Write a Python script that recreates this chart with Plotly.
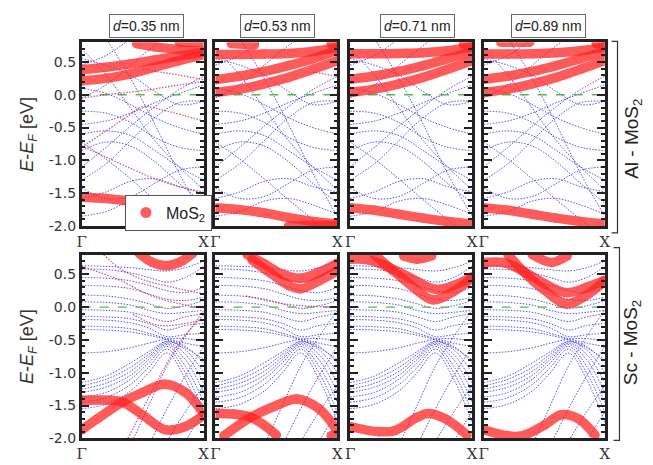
import plotly.graph_objects as go

W, H = 653, 465

# ---------------- data ----------------
D_LABELS = ["0.35", "0.53", "0.71", "0.89"]
ROW_LABELS = ["Al - MoS<sub>2</sub>", "Sc - MoS<sub>2</sub>"]
Y_TICKVALS = [0.5, 0.0, -0.5, -1.0, -1.5, -2.0]
Y_TICKTEXT = ["0.5", "0.0", "-0.5", "-1.0", "-1.5", "-2.0"]
X_TICKTEXT = ["Γ", "X"]

# Al - MoS2 metal bands (k grid along Γ-X)
AL_K = [0, 0.2, 0.4, 0.6, 0.8, 1.0]
AL_BANDS = [
    [-1.10, -0.80, -0.48, -0.18, 0.08, 0.28],
    [0.10, 0.02, -0.15, -0.35, -0.50, -0.60],
    [-0.25, -0.28, -0.42, -0.65, -0.80, -0.85],
    [1.30, 0.85, 0.25, -0.45, -1.20, -1.85],
    [0.70, 0.30, -0.20, -0.70, -1.10, -1.45],
    [-0.72, -0.98, -1.28, -1.60, -1.90, -2.20],
    [-1.42, -1.58, -1.55, -1.35, -1.15, -1.10],
    [-1.58, -1.48, -1.32, -1.28, -1.40, -1.48],
    [-0.85, -0.72, -0.78, -1.02, -1.35, -1.65],
    [-0.45, -0.40, -0.28, -0.12, 0.02, 0.15],
    [0.45, 0.60, 0.85, 1.10, 1.30, 1.40],
    [-0.05, 0.15, 0.45, 0.75, 1.00, 1.20],
    [-1.85, -1.78, -1.62, -1.58, -1.68, -1.82],
    [0.55, 0.45, 0.30, 0.05, -0.15, -0.10],
    [-1.30, -1.05, -0.70, -0.35, -0.12, -0.10],
    [-0.60, -0.55, -0.62, -0.85, -1.10, -1.30],
]

# Sc - MoS2 metal bands
SC_K = [0, 0.2, 0.4, 0.55, 0.7, 0.85, 1.0]
SC_BANDS = [
    [0.63, 0.62, 0.60, 0.57, 0.55, 0.60, 0.70],
    [0.58, 0.57, 0.52, 0.45, 0.38, 0.45, 0.62],
    [0.45, 0.44, 0.40, 0.33, 0.25, 0.22, 0.30],
    [0.33, 0.32, 0.28, 0.20, 0.12, 0.10, 0.15],
    [0.18, 0.17, 0.12, 0.05, -0.02, 0.02, 0.10],
    [0.08, 0.07, 0.03, -0.05, -0.10, -0.08, -0.05],
    [-0.04, -0.05, -0.08, -0.15, -0.22, -0.15, -0.10],
    [-0.14, -0.15, -0.18, -0.25, -0.35, -0.28, -0.25],
    [-0.19, -0.20, -0.24, -0.32, -0.45, -0.42, -0.40],
    [-0.29, -0.30, -0.33, -0.40, -0.48, -0.55, -0.60],
    [-0.34, -0.35, -0.38, -0.43, -0.50, -0.62, -0.80],
    [-0.70, -0.68, -0.62, -0.55, -0.49, -0.48, -0.52],
    [-1.15, -1.05, -0.85, -0.68, -0.52, -0.60, -0.85],
    [-1.20, -1.10, -0.92, -0.72, -0.53, -0.65, -1.00],
    [-1.25, -1.16, -0.98, -0.76, -0.55, -0.72, -1.15],
    [-1.30, -1.22, -1.04, -0.80, -0.57, -0.80, -1.30],
    [-1.37, -1.30, -1.10, -0.85, -0.60, -0.90, -1.45],
    [-1.45, -1.38, -1.18, -0.92, -0.64, -1.00, -1.60],
    [-1.55, -1.48, -1.28, -1.00, -0.70, -1.10, -1.75],
    [-3.50, -2.80, -2.10, -1.50, -0.90, -0.45, -0.05],
    [-4.00, -3.40, -2.60, -2.10, -1.55, -1.05, -0.60],
    [-4.50, -3.90, -3.20, -2.60, -2.05, -1.60, -1.20],
    [-5.00, -4.40, -3.80, -3.20, -2.60, -2.05, -1.60],
]

# MoS2-projected bands (thick red), per panel: (k list, E list)
MOS2_AL = [
    [([0, 0.2, 0.4, 0.6, 0.8, 1.0], [0.385, 0.42, 0.47, 0.53, 0.59, 0.65]),
     ([0, 0.2, 0.4, 0.6, 0.8, 1.0], [0.215, 0.25, 0.32, 0.42, 0.52, 0.61]),
     ([0.45, 0.6, 0.8, 1.0], [0.78, 0.73, 0.69, 0.66]),
     ([0.8, 1.0], [0.80, 0.80]),
     ([0, 0.2, 0.4, 0.6, 0.8, 1.0], [-1.56, -1.58, -1.62, -1.66, -1.65, -1.62]),
     ([0.5, 0.75, 1.0], [-1.98, -1.97, -1.95]),
     ([0.85, 1.0], [-1.86, -1.87])],
    [([0, 0.2, 0.4, 0.6, 0.8, 1.0], [0.615, 0.615, 0.62, 0.63, 0.66, 0.72]),
     ([0, 0.2, 0.4, 0.6, 0.8, 1.0], [0.23, 0.285, 0.355, 0.445, 0.55, 0.68]),
     ([0, 0.2, 0.4, 0.6, 0.8, 1.0], [0.035, 0.085, 0.165, 0.265, 0.39, 0.52]),
     ([0.13, 0.32], [0.78, 0.76]),
     ([0.95, 1.0], [0.78, 0.79]),
     ([0, 0.2, 0.4, 0.6, 0.8, 1.0], [-1.72, -1.75, -1.80, -1.87, -1.93, -1.97]),
     ([0.6, 0.8, 1.0], [-2.0, -1.99, -1.99])],
    [([0, 0.2, 0.4, 0.6, 0.8, 1.0], [0.625, 0.625, 0.63, 0.64, 0.67, 0.73]),
     ([0, 0.2, 0.4, 0.6, 0.8, 1.0], [0.235, 0.285, 0.355, 0.445, 0.55, 0.66]),
     ([0, 0.2, 0.4, 0.6, 0.8, 1.0], [0.035, 0.085, 0.165, 0.265, 0.39, 0.52]),
     ([0.93, 1.0], [0.77, 0.78]),
     ([0, 0.2, 0.4, 0.6, 0.8, 1.0], [-1.72, -1.76, -1.82, -1.88, -1.93, -1.97])],
    [([0, 0.2, 0.4, 0.6, 0.8, 1.0], [0.62, 0.62, 0.625, 0.64, 0.67, 0.73]),
     ([0, 0.2, 0.4, 0.6, 0.8, 1.0], [0.235, 0.285, 0.355, 0.445, 0.55, 0.66]),
     ([0, 0.2, 0.4, 0.6, 0.8, 1.0], [0.035, 0.085, 0.165, 0.265, 0.39, 0.52]),
     ([0.14, 0.38], [0.80, 0.80]),
     ([0.93, 1.0], [0.78, 0.79]),
     ([0, 0.2, 0.4, 0.6, 0.8, 1.0], [-1.72, -1.76, -1.82, -1.88, -1.93, -1.97])],
]
MOS2_SC = [
    [([0.47, 0.58, 0.69, 0.80, 0.91], [0.82, 0.68, 0.63, 0.68, 0.82]),
     ([0, 0.24, 0.34, 0.5, 0.69, 0.85, 1.0], [-1.42, -1.42, -1.45, -1.645, -1.87, -1.82, -1.645]),
     ([0, 0.13, 0.34, 0.5, 0.68, 0.85, 1.0], [-1.87, -1.70, -1.44, -1.30, -1.175, -1.30, -1.62])],
    [([0.26, 0.4, 0.55, 0.7, 0.85, 1.0], [0.80, 0.66, 0.50, 0.44, 0.53, 0.67]),
     ([0.30, 0.45, 0.6, 0.7, 0.85, 1.0], [0.72, 0.52, 0.33, 0.28, 0.40, 0.55]),
     ([0, 0.15, 0.29, 0.4, 0.5], [-1.62, -1.63, -1.68, -1.80, -1.95]),
     ([0.07, 0.29, 0.5, 0.67, 0.85, 0.99], [-1.96, -1.68, -1.50, -1.40, -1.55, -1.86]),
     ([0.95, 1.0], [-1.96, -1.95])],
    [([0, 0.15, 0.3, 0.5, 0.7, 0.85, 1.0], [0.73, 0.72, 0.62, 0.44, 0.27, 0.33, 0.46]),
     ([0.2, 0.35, 0.5, 0.68, 0.85, 1.0], [0.80, 0.56, 0.33, 0.11, 0.24, 0.44]),
     ([0.44, 0.55, 0.67], [0.78, 0.73, 0.78]),
     ([0, 0.24, 0.37, 0.55, 0.64, 0.78, 0.96], [-1.82, -1.90, -1.88, -1.68, -1.62, -1.70, -1.95])],
    [([0, 0.18, 0.35, 0.5, 0.68, 0.85, 1.0], [0.68, 0.67, 0.52, 0.36, 0.22, 0.30, 0.41]),
     ([0.2, 0.35, 0.5, 0.68, 0.85, 1.0], [0.80, 0.50, 0.26, 0.05, 0.18, 0.40]),
     ([0.40, 0.56, 0.69], [0.80, 0.68, 0.78]),
     ([0, 0.29, 0.5, 0.64, 0.78, 0.92], [-1.87, -1.97, -1.80, -1.64, -1.70, -1.95])],
]

# weakly MoS2-hybridised bands (thin red)
HYB_AL = [
    [([0, 0.2, 0.4, 0.5, 0.7, 1.0], [-0.80, -0.55, -0.30, -0.18, -0.25, -0.40]),
     ([0, 0.2, 0.4, 0.6, 0.8, 1.0], [-0.78, -0.95, -1.12, -1.28, -1.40, -1.50]),
     ([0, 0.2, 0.4, 0.6, 0.8, 1.0], [-0.05, 0.0, 0.04, 0.09, 0.15, 0.20]),
     ([0.5, 0.6, 0.8, 1.0], [0.40, 0.36, 0.30, 0.23])],
    [([0.8, 1.0], [0.35, 0.28])],
    [],
    [],
]
HYB_SC = [
    [([0.18, 0.32, 0.5, 0.75, 1.0], [0.80, 0.58, 0.42, 0.30, 0.20]),
     ([0, 0.3, 0.6, 1.0], [0.62, 0.42, 0.15, -0.02]),
     ([0.42, 0.64, 1.0], [-0.11, -0.28, -0.19]),
     ([0.38, 0.6, 0.8, 1.0], [-2.0, -1.2, -0.55, -0.12])],
    [([0.25, 0.6, 1.0], [0.17, 0.04, 0.0])],
    [],
    [],
]

# ---------------- layout geometry (pixels) ----------------
COL_X = [(78, 202), (214, 338), (351, 475), (487, 610)]
ROW_Y = [(43, 230), (259, 446)]
TITLE_XC = [143.5, 277.5, 420, 553]

BLUE = "rgba(35,35,250,0.8)"
RED = "rgb(255,35,35)"
THIN = "rgba(215,30,90,0.75)"
GREEN = "rgb(90,185,70)"
AX = "#222222"
DOT = "1.5px,1.5px"

fig = go.Figure()
layout = {}

def px_x(x):
    return x / W

def px_y(y):
    return 1 - y / H

for r in range(2):
    for c in range(4):
        n = r * 4 + c + 1
        xa = "x" if n == 1 else f"x{n}"
        ya = "y" if n == 1 else f"y{n}"
        kgrid, bands = (AL_K, AL_BANDS) if r == 0 else (SC_K, SC_BANDS)
        for b in bands:
            fig.add_trace(go.Scatter(x=kgrid, y=b, mode="lines", xaxis=xa, yaxis=ya,
                                     line=dict(color=BLUE, width=1, dash=DOT, shape="spline"),
                                     showlegend=False, hoverinfo="skip"))
        fig.add_trace(go.Scatter(x=[0, 1], y=[0, 0], mode="lines", xaxis=xa, yaxis=ya,
                                 line=dict(color=GREEN, width=1.3, dash="dash"),
                                 showlegend=False, hoverinfo="skip"))
        hyb = HYB_AL[c] if r == 0 else HYB_SC[c]
        for k, e in hyb:
            fig.add_trace(go.Scatter(x=k, y=e, mode="lines", xaxis=xa, yaxis=ya,
                                     line=dict(color=THIN, width=1.3, dash=DOT, shape="spline"),
                                     showlegend=False, hoverinfo="skip"))
        red = MOS2_AL[c] if r == 0 else MOS2_SC[c]
        for k, e in red:
            fig.add_trace(go.Scatter(x=k, y=e, mode="lines+markers", xaxis=xa, yaxis=ya,
                                     line=dict(color=RED, width=9.5, shape="spline"),
                                     marker=dict(color=RED, size=9.5, line=dict(width=0)),
                                     opacity=0.74, cliponaxis=True,
                                     showlegend=False, hoverinfo="skip"))

        x0, x1 = COL_X[c]
        y0, y1 = ROW_Y[r]
        layout["xaxis" if n == 1 else f"xaxis{n}"] = dict(
            domain=[px_x(x0), px_x(x1)], anchor=ya, range=[0, 1],
            showline=True, linecolor=AX, linewidth=2.5, mirror=True,
            showgrid=False, zeroline=False, ticks="",
            tickmode="array", tickvals=[0, 1], ticktext=X_TICKTEXT,
            tickfont=dict(family="DejaVu Serif", size=15, color="#333"),
        )
        layout["yaxis" if n == 1 else f"yaxis{n}"] = dict(
            domain=[px_y(y1), px_y(y0)], anchor=xa, range=[-2.0, 0.8],
            showline=True, linecolor=AX, linewidth=2.5, mirror="allticks",
            showgrid=False, zeroline=False,
            ticks="inside", ticklen=8, tickwidth=2, tickcolor=AX,
            tickmode="array", tickvals=Y_TICKVALS, ticktext=Y_TICKTEXT,
            showticklabels=(c == 0),
            tickfont=dict(family="DejaVu Sans", size=14, color="#333"),
            minor=dict(tickmode="linear", tick0=0, dtick=0.1, ticks="inside",
                       ticklen=4, tickwidth=1.5, tickcolor=AX),
        )

# legend entry
fig.add_trace(go.Scatter(x=[None], y=[None], mode="markers", name="MoS<sub>2</sub>",
                         marker=dict(color="rgba(255,50,50,0.8)", size=11),
                         showlegend=True))

annotations = []
for c, d in enumerate(D_LABELS):
    annotations.append(dict(
        x=px_x(TITLE_XC[c]), y=px_y(26), xref="paper", yref="paper",
        text=f"<i>d</i>={d} nm", showarrow=False,
        font=dict(family="Liberation Sans", size=14, color="#222"),
        bordercolor="#666", borderwidth=1, borderpad=3, bgcolor="white",
        xanchor="center", yanchor="middle"))
for r in range(2):
    yc = (ROW_Y[r][0] + ROW_Y[r][1]) / 2
    annotations.append(dict(
        x=px_x(24), y=px_y(yc), xref="paper", yref="paper",
        text="<i>E</i>-<i>E</i><sub><i>F</i></sub> [eV]", showarrow=False, textangle=-90,
        font=dict(family="Liberation Sans", size=18, color="#333"),
        xanchor="center", yanchor="middle"))
ROW_LABEL_YC = [141, 348]
for r in range(2):
    annotations.append(dict(
        x=px_x(638), y=px_y(ROW_LABEL_YC[r]), xref="paper", yref="paper",
        text=ROW_LABELS[r], showarrow=False, textangle=-90,
        font=dict(family="Liberation Sans", size=19, color="#222"),
        xanchor="center", yanchor="middle"))

BRACKETS = [(617, 623, 42, 237), (619, 625, 252, 448)]
shapes = []
for xa_, xb_, ya_, yb_ in BRACKETS:
    shapes.append(dict(
        type="path", xref="paper", yref="paper",
        path=f"M {px_x(xa_)},{px_y(ya_)} L {px_x(xb_)},{px_y(ya_)} L {px_x(xb_)},{px_y(yb_)} L {px_x(xa_)},{px_y(yb_)}",
        line=dict(color="#333", width=1.2)))

fig.update_layout(
    width=W, height=H, margin=dict(l=0, r=0, t=0, b=0),
    paper_bgcolor="white", plot_bgcolor="white",
    annotations=annotations, shapes=shapes,
    legend=dict(x=px_x(122), y=px_y(198), xanchor="left", yanchor="top",
                bordercolor="#555", borderwidth=1, bgcolor="white",
                font=dict(family="Liberation Sans", size=16, color="#222"),
                itemwidth=30, tracegroupgap=0),
    **layout,
)

fig.write_html("out.html")
